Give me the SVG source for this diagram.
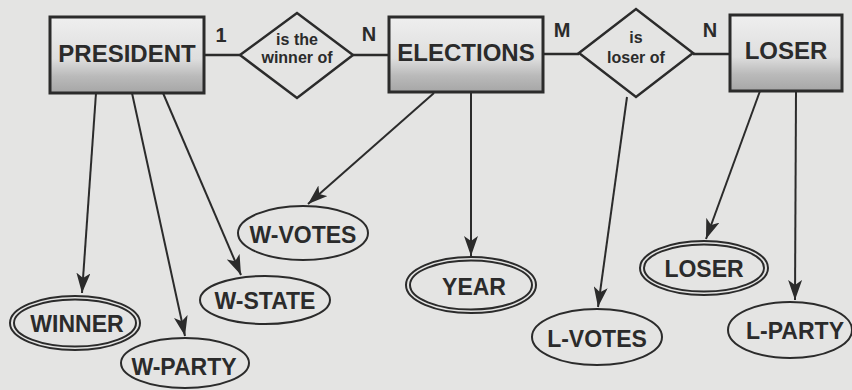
<svg xmlns="http://www.w3.org/2000/svg" width="852" height="390" viewBox="0 0 852 390">
<style>
.ent{stroke:#2b2b2b;stroke-width:3;fill:url(#g)}
.rel{stroke:#2b2b2b;stroke-width:2.5;fill:none}
.att{stroke:#2b2b2b;stroke-width:2;fill:none}
.et{font-family:"Liberation Sans",Arial,sans-serif;font-weight:bold;font-size:24px;fill:#2b2b2b;text-anchor:middle}
.at{font-family:"Liberation Sans",Arial,sans-serif;font-weight:bold;font-size:23px;fill:#2b2b2b;text-anchor:middle}
.rt{font-family:"Liberation Sans",Arial,sans-serif;font-weight:bold;font-size:16px;fill:#2b2b2b;text-anchor:middle}
.ct{font-family:"Liberation Sans",Arial,sans-serif;font-weight:bold;font-size:20px;fill:#2b2b2b;text-anchor:middle}
.ln{stroke:#2b2b2b;stroke-width:2.5;fill:none}
.ar{stroke:#2b2b2b;stroke-width:2;fill:none;marker-end:url(#ah)}
</style>
<defs>
<linearGradient id="g" x1="0" y1="0" x2="0" y2="1">
<stop offset="0" stop-color="#efefef"/>
<stop offset="0.55" stop-color="#dedede"/>
<stop offset="0.78" stop-color="#bababa"/>
<stop offset="1" stop-color="#a6a6a6"/>
</linearGradient>
<marker id="ah" markerUnits="userSpaceOnUse" markerWidth="22" markerHeight="14" refX="20" refY="7" orient="auto">
<path d="M0,0 L20,7 L0,14 L5,7 Z" fill="#2b2b2b"/>
</marker>
</defs>
<rect width="852" height="390" fill="#e4e4e3"/>
<g id="connectors">
<line class="ln" x1="204" y1="55" x2="240" y2="55"/>
<line class="ln" x1="353" y1="55" x2="389" y2="55"/>
<line class="ln" x1="543" y1="54" x2="579" y2="54"/>
<line class="ln" x1="693" y1="54" x2="730" y2="54"/>
<text class="ct" x="221" y="42">1</text>
<text class="ct" x="369" y="41">N</text>
<text class="ct" x="562" y="37">M</text>
<text class="ct" x="710" y="37">N</text>
<line class="ar" x1="96" y1="93" x2="82" y2="293"/>
<line class="ar" x1="132" y1="93" x2="185" y2="336"/>
<line class="ar" x1="163" y1="93" x2="241" y2="275"/>
<line class="ar" x1="434" y1="93" x2="308" y2="204"/>
<line class="ar" x1="471" y1="93" x2="471" y2="256"/>
<line class="ar" x1="627" y1="97" x2="598" y2="307"/>
<line class="ar" x1="760" y1="91" x2="706" y2="239"/>
<line class="ar" x1="796" y1="91" x2="795" y2="300"/>
</g>
<g id="president">
<rect class="ent" x="50" y="17" width="154" height="76"/>
<text class="et" x="127" y="62">PRESIDENT</text>
</g>
<g id="winner-of">
<polygon class="rel" points="240,55 297,13 353,55 297,98"/>
<text class="rt" x="297" y="45">is the</text>
<text class="rt" x="297" y="63">winner of</text>
</g>
<g id="elections">
<rect class="ent" x="389" y="17" width="154" height="75"/>
<text class="et" x="466" y="61">ELECTIONS</text>
</g>
<g id="loser-of">
<polygon class="rel" points="579,53 636,9 693,53 636,97"/>
<text class="rt" x="636" y="43">is</text>
<text class="rt" x="636" y="63">loser of</text>
</g>
<g id="loser">
<rect class="ent" x="730" y="15" width="112" height="76"/>
<text class="et" x="786" y="59">LOSER</text>
</g>
<g id="winner">
<ellipse class="att" cx="75" cy="323" rx="65" ry="27"/>
<ellipse class="att" cx="75" cy="323" rx="61" ry="23.5"/>
<text class="at" x="77" y="332">WINNER</text>
</g>
<g id="w-party">
<ellipse class="att" cx="185" cy="363" rx="64" ry="25"/>
<text class="at" x="184" y="375">W-PARTY</text>
</g>
<g id="w-state">
<ellipse class="att" cx="265" cy="300" rx="65" ry="24"/>
<text class="at" x="265" y="309">W-STATE</text>
</g>
<g id="w-votes">
<ellipse class="att" cx="303" cy="233" rx="65" ry="27"/>
<text class="at" x="303" y="243">W-VOTES</text>
</g>
<g id="year">
<ellipse class="att" cx="471" cy="285" rx="65" ry="28"/>
<ellipse class="att" cx="471" cy="285" rx="61" ry="24.5"/>
<text class="at" x="474" y="295">YEAR</text>
</g>
<g id="l-votes">
<ellipse class="att" cx="597" cy="337" rx="65" ry="28"/>
<text class="at" x="597" y="347">L-VOTES</text>
</g>
<g id="loser-attr">
<ellipse class="att" cx="704" cy="268" rx="64" ry="27"/>
<ellipse class="att" cx="704" cy="268" rx="60" ry="23.5"/>
<text class="at" x="704" y="277">LOSER</text>
</g>
<g id="l-party">
<ellipse class="att" cx="790" cy="330" rx="62" ry="28"/>
<text class="at" x="795" y="339">L-PARTY</text>
</g>
</svg>
